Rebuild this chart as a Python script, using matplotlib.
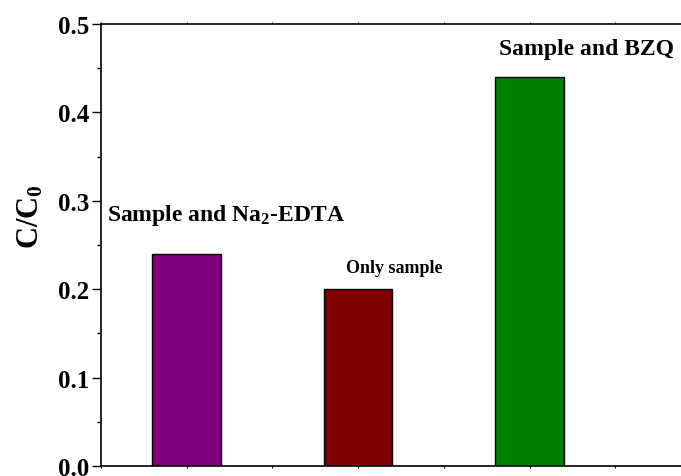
import numpy as np
import matplotlib
matplotlib.use("Agg")
import matplotlib.pyplot as plt
from matplotlib.ticker import MultipleLocator, NullFormatter

plt.rcParams['font.family'] = 'Liberation Serif'
plt.rcParams['font.weight'] = 'bold'
plt.rcParams['mathtext.default'] = 'regular'

# valores C/C0 de cada ensaio
posicoes = [1, 2, 3]
valores = [0.24, 0.20, 0.44]
cores = ['#800080', '#800000', '#008000']
rotulos = ['Sample and Na$_2$-EDTA', 'Only sample', 'Sample and BZQ']

fig = plt.figure(figsize=(6.81, 4.77), dpi=100)
ax = fig.add_axes([0.1483, 0.021, 0.881, 0.9266])

ax.bar(posicoes, valores, width=0.4, color=cores, edgecolor='black', linewidth=1)

# rótulos acima das barras
ax.text(1.227, 0.285, rotulos[0], ha='center', va='center', fontsize=17, fontweight='bold')
ax.text(2.21, 0.225, rotulos[1], ha='center', va='center', fontsize=13, fontweight='bold')
ax.text(3.33, 0.472, rotulos[2], ha='center', va='center', fontsize=17, fontweight='bold')

ax.set_xlim(0.5, 4.0)
ax.set_ylim(0, 0.5)
ax.yaxis.set_major_locator(MultipleLocator(0.1))
ax.yaxis.set_minor_locator(MultipleLocator(0.05))
ax.yaxis.set_major_formatter(plt.FormatStrFormatter('%.1f'))
ax.xaxis.set_major_locator(MultipleLocator(0.5))
ax.xaxis.set_major_formatter(NullFormatter())

ax.tick_params(axis='y', which='major', direction='out', length=6.5, width=1, labelsize=18, pad=2)
ax.tick_params(axis='y', which='minor', direction='out', length=3, width=1)
ax.tick_params(axis='x', which='major', direction='out', length=1.5, width=0.8, top=True)
for lbl in ax.get_yticklabels():
    lbl.set_fontweight('bold')

ax.spines['right'].set_visible(False)
for s in ['left', 'bottom', 'top']:
    ax.spines[s].set_linewidth(1.2)

ax.set_ylabel('C/C$_0$', fontsize=22, fontweight='bold')
ax.yaxis.set_label_coords(-0.092, 0.566)

fig.savefig('out.png', dpi=100)
